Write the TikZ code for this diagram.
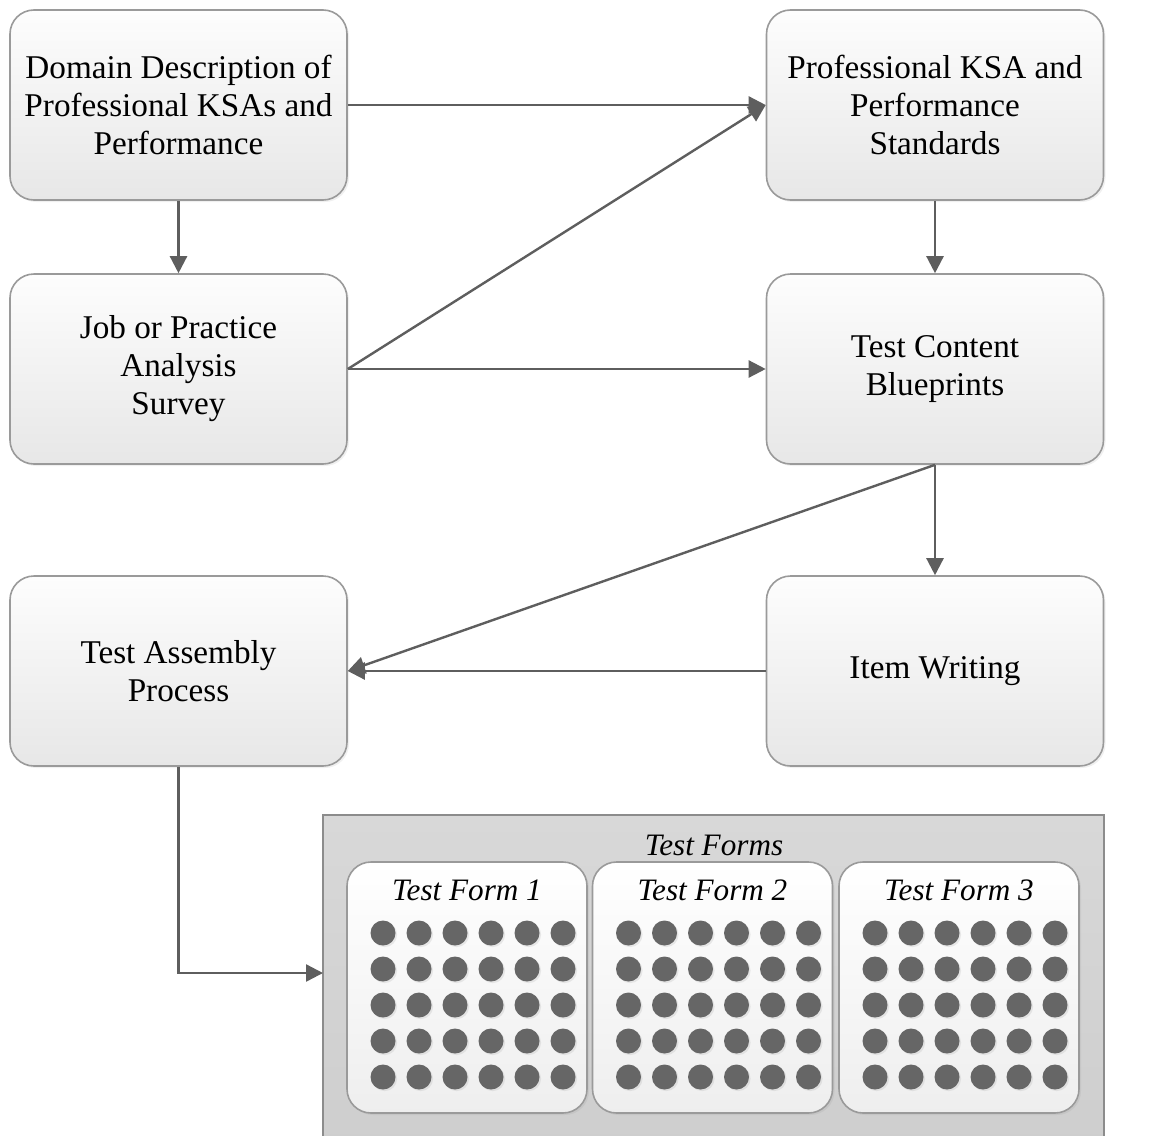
\documentclass[tikz,border=0pt]{standalone}
\usepackage{fontspec}
\setmainfont{Liberation Serif}
\usetikzlibrary{positioning,arrows.meta,shadows}
\definecolor{wire}{HTML}{5E5E5E}
\definecolor{rim}{HTML}{9A9A9A}
\definecolor{boxtop}{HTML}{FDFDFD}
\definecolor{boxbot}{HTML}{E7E7E7}
\definecolor{panel}{HTML}{D8D8D8}
\definecolor{panelbot}{HTML}{CECECE}
\definecolor{panelrim}{HTML}{8C8C8C}
\definecolor{item}{HTML}{666666}

\begin{document}
\begin{tikzpicture}[x=0.5pt,y=-0.5pt,>={Triangle[length=8.5pt,width=8.5pt]},
  font=\fontsize{16.6}{19}\selectfont,
  stepbox/.style={draw=rim,line width=0.8pt,rounded corners=12pt,top color=boxtop,bottom color=boxbot,align=center,minimum width=168.5pt,minimum height=95pt,drop shadow={opacity=0.12,shadow xshift=1pt,shadow yshift=-1pt}},
  panelbox/.style={draw=panelrim,line width=0.9pt,top color=panel,bottom color=panelbot,minimum width=390.5pt,minimum height=167.5pt},
  formbox/.style={draw=rim,line width=0.8pt,rounded corners=12pt,top color=white,bottom color=boxbot!70,minimum width=120pt,minimum height=125.5pt,drop shadow={opacity=0.12,shadow xshift=1pt,shadow yshift=-1pt}},
  formlbl/.style={font=\fontsize{15.6}{18}\selectfont\itshape},
  flow/.style={->,draw=wire,line width=1.2pt}]
\useasboundingbox (0,0) rectangle (1161,1135);
\clip (0,0) rectangle (1161,1135);
% ---------- top row ----------
\node[stepbox] (dom) at (178.5,105) {Domain Description of\\ Professional KSAs and\\ Performance};
\node[stepbox] (std) at (935,105) {Professional KSA and\\ Performance\\ Standards};
% ---------- middle row ----------
\node[stepbox] (jas) at (178.5,369) {Job or Practice\\ Analysis\\ Survey};
\node[stepbox] (blue) at (935,369) {Test Content\\ Blueprints};
% ---------- assembly row ----------
\node[stepbox] (asm) at (178.5,671) {Test Assembly\\ Process};
\node[stepbox] (item) at (935,671) {Item Writing};
% ---------- test forms ----------
\node[panelbox] (forms) at (713.5,982.5) {};
\node[formlbl] (formstitle) at (714,845) {Test Forms};
\foreach \k/\cx in {1/467,2/712.5,3/959}{
  \node[formbox] (form\k) at (\cx,987.5) {};
  \node[formlbl] (form\k title) at (\cx,890) {Test Form \k};
  \foreach \i in {0,...,5}
    \foreach \j in {0,...,4}
      \fill[item,drop shadow={opacity=0.15,shadow xshift=0.8pt,shadow yshift=-0.8pt}] (\cx-84+36*\i,933+36*\j) circle[radius=6.25pt];
}
\coordinate (formsin) at (323,973);
% ---------- connectors ----------
\draw[flow] (dom) -- (std);
\draw[flow] (dom) -- (jas);
\draw[flow] (jas.east) -- (std.west);
\draw[flow] (jas) -- (blue);
\draw[flow] (std) -- (blue);
\draw[flow] (blue) -- (item);
\draw[flow] (blue.south) -- (asm.east);
\draw[flow] (item) -- (asm);
\draw[flow] (asm.south) |- (formsin);
\end{tikzpicture}
\end{document}
